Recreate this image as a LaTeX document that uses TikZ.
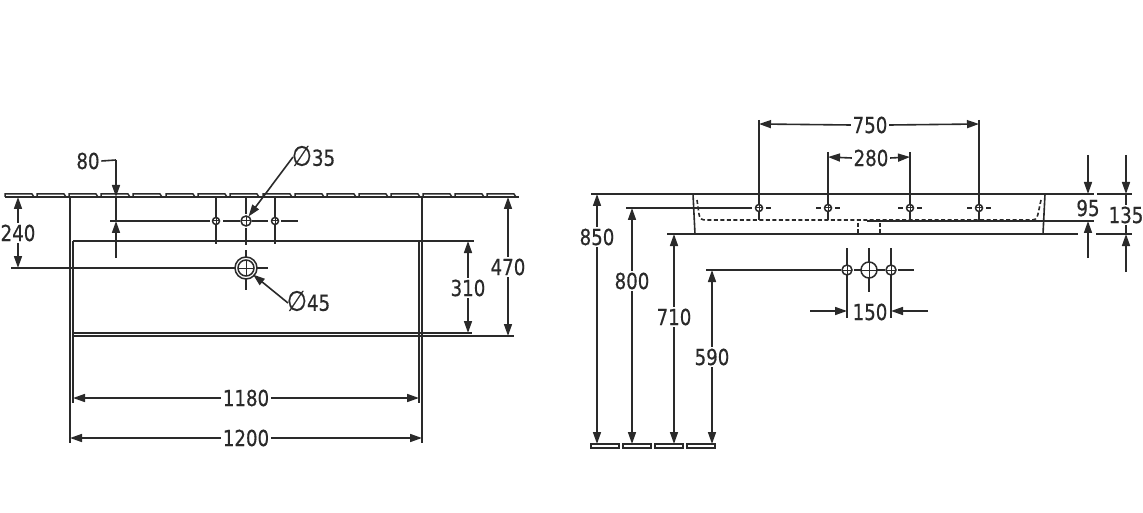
\documentclass[tikz,border=0pt]{standalone}
\usepackage{fontspec}
\setmainfont[RawFeature={embolden=0.5},FakeStretch=0.92]{DejaVu Sans Condensed}
\usetikzlibrary{arrows.meta}
\definecolor{ink}{HTML}{2A2A2A}
\tikzset{
  every path/.style={line width=1.6pt},
  thin line/.style={draw=ink,line width=1.6pt},
  base line/.style={draw=ink,line width=1.6pt},
  dimline/.style={draw=ink,line width=1.6pt,-{Triangle[length=12pt,width=8pt]}},
  dimtext/.style={font=\fontsize{22}{22}\selectfont,text=ink,inner sep=1pt},
  hidden/.style={draw=ink,line width=1.6pt,dash pattern=on 4pt off 2.5pt},
  hole/.style={draw=ink,line width=1.5pt,fill=white},
  plate/.style={draw=ink,line width=1.5pt,fill=white},
}
\newcommand{\crosshole}[3]{% x,y,r
  \draw[hole] (#1,#2) circle[radius=#3];
  \draw[draw=ink,line width=1pt] (#1-#3,#2) -- (#1+#3,#2) (#1,#2-#3) -- (#1,#2+#3);
}
\newcommand{\dia}{{\fontsize{28}{20}\selectfont∅}}
\begin{document}
\begin{tikzpicture}[x=1pt,y=-1pt]
\useasboundingbox (0,0) rectangle (1143,513);
% ---------- left view: wall strip
\foreach \a in {5,37,69,101,133,166,198,230,263,295,327,359,391,423,455,487}{
  \draw[plate] (\a,197) -- (\a,194) -- (\a+27,194) -- (\a+29,197);
}
\draw[base line] (5,197) -- (519,197);
% body
\draw[base line] (70,197) -- (70,443);
\draw[base line] (73,241) -- (73,403);
\draw[base line] (422,197) -- (422,443);
\draw[base line] (419,241) -- (419,403);
\draw[base line] (73,241) -- (474,241);
\draw[base line] (72,333) -- (472,333);
\draw[base line] (72,336) -- (514,336);
% hole centre lines
\draw[thin line] (110,221) -- (210,221) (223,221) -- (240,221) (252,221) -- (268,221) (281,221) -- (298,221);
\draw[thin line] (216,197) -- (216,244);
\draw[thin line] (275,197) -- (275,244);
\draw[thin line] (246,197) -- (246,214) (246,228) -- (246,245) (246,250) -- (246,290);
\draw[thin line] (11,268) -- (268,268);
\draw[hole] (246,268) circle[radius=11];
\draw[hole] (246,268) circle[radius=8];
\draw[draw=ink,line width=1pt] (238,268) -- (254,268) (246,260) -- (246,276);
\crosshole{246}{221}{5}
\crosshole{216}{221}{3.5}
\crosshole{275}{221}{3.5}
% 80
\node[dimtext] (t80) at (88,161) {80};
\coordinate (d80a) at (116,160);
\coordinate (d80b) at (116,197);
\coordinate (d80c) at (116,258);
\coordinate (d80d) at (116,221);
\draw[thin line] (t80.east) -- (d80a);
\draw[dimline] (d80a) -- (d80b);
\draw[thin line] (d80b) -- (d80d);
\draw[dimline] (d80c) -- (d80d);
% 240
\node[dimtext] (t240) at (18,233) {240};
\coordinate (d240a) at (18,197);
\coordinate (d240b) at (18,268);
\draw[dimline] (t240.north) -- (d240a);
\draw[dimline] (t240.south) -- (d240b);
% diameters
\node[dimtext,anchor=west] (t35) at (290,156) {\dia 35};
\node[dimtext,anchor=west] (t45) at (285,301) {\dia 45};
\coordinate (a35) at (248.5,216.5);
\coordinate (a45) at (253,274.5);
\coordinate (s35) at (293,157);
\coordinate (s45) at (288,303);
\draw[dimline] (s35) -- (a35);
\draw[dimline] (s45) -- (a45);
% 310, 470
\node[dimtext] (t310) at (468,288) {310};
\coordinate (d310a) at (468,241);
\coordinate (d310b) at (468,333);
\draw[dimline] (t310.north) -- (d310a);
\draw[dimline] (t310.south) -- (d310b);
\node[dimtext] (t470) at (508,267) {470};
\coordinate (d470a) at (508,197);
\coordinate (d470b) at (508,336);
\draw[dimline] (t470.north) -- (d470a);
\draw[dimline] (t470.south) -- (d470b);
% 1180, 1200
\node[dimtext] (t1180) at (246,398) {1180};
\coordinate (d1180a) at (73,398);
\coordinate (d1180b) at (419,398);
\draw[dimline] (t1180.west) -- (d1180a);
\draw[dimline] (t1180.east) -- (d1180b);
\node[dimtext] (t1200) at (246,438) {1200};
\coordinate (d1200a) at (70,438);
\coordinate (d1200b) at (422,438);
\draw[dimline] (t1200.west) -- (d1200a);
\draw[dimline] (t1200.east) -- (d1200b);
% ---------- right view
\draw[base line] (591,194) -- (1094,194) (1097,194) -- (1132,194);
\draw[base line] (667,234) -- (1078,234) (1096,234) -- (1132,234);
\draw[base line] (867,221) -- (1094,221);
\draw[base line] (626,208) -- (752,208);
\draw[base line] (693,194) -- (695,234);
\draw[base line] (1045,194) -- (1043,234);
\draw[hidden] (697,200) -- (699,214) .. controls (699.5,219) and (702,220) .. (706,220) -- (867,220);
\draw[hidden] (1041,200) -- (1038,214) .. controls (1037,219) and (1035,220) .. (1031,220) -- (867,220);
\draw[hidden] (858,223) -- (858,234);
\draw[hidden] (880,223) -- (880,234);
% vertical extension lines
\draw[thin line] (759,120) -- (759,220);
\draw[thin line] (828,152) -- (828,220);
\draw[thin line] (910,152) -- (910,220);
\draw[thin line] (979,120) -- (979,220);
% holes
\foreach \x in {759,828,910,979}{
  \crosshole{\x}{208}{3.5}
  \draw[thin line] (\x+7,208) -- (\x+12,208);
}
\foreach \x in {828,910,979}{
  \draw[thin line] (\x-12,208) -- (\x-7,208);
}
% lower holes
\draw[thin line] (706,270) -- (841,270) (854,270) -- (861,270) (877,270) -- (885,270) (898,270) -- (914,270);
\draw[thin line] (847,248) -- (847,318);
\draw[thin line] (891,248) -- (891,318);
\draw[thin line] (869,248) -- (869,292);
\crosshole{847}{270}{5}
\crosshole{869}{270}{8}
\crosshole{891}{270}{5}
% floor
\foreach \a in {591,623,655,687}{
  \draw[plate] (\a,444) rectangle (\a+28,448);
}
% 750, 280
\node[dimtext] (t750) at (870,125) {750};
\coordinate (d750a) at (759,124);
\coordinate (d750b) at (979,124);
\draw[dimline] (t750.west) -- (d750a);
\draw[dimline] (t750.east) -- (d750b);
\node[dimtext] (t280) at (871,158) {280};
\coordinate (d280a) at (828,157);
\coordinate (d280b) at (910,157);
\draw[dimline] (t280.west) -- (d280a);
\draw[dimline] (t280.east) -- (d280b);
% 150
\node[dimtext] (t150) at (870,312) {150};
\coordinate (d150l) at (810,311);
\coordinate (d150a) at (847,311);
\coordinate (d150r) at (928,311);
\coordinate (d150b) at (891,311);
\draw[dimline] (d150l) -- (d150a);
\draw[dimline] (d150r) -- (d150b);
% heights
\node[dimtext] (t850) at (597,237) {850};
\coordinate (d850a) at (597,194);
\coordinate (d850b) at (597,444);
\draw[dimline] (t850.north) -- (d850a);
\draw[dimline] (t850.south) -- (d850b);
\node[dimtext] (t800) at (632,281) {800};
\coordinate (d800a) at (632,208);
\coordinate (d800b) at (632,444);
\draw[dimline] (t800.north) -- (d800a);
\draw[dimline] (t800.south) -- (d800b);
\node[dimtext] (t710) at (674,317) {710};
\coordinate (d710a) at (674,234);
\coordinate (d710b) at (674,444);
\draw[dimline] (t710.north) -- (d710a);
\draw[dimline] (t710.south) -- (d710b);
\node[dimtext] (t590) at (712,357) {590};
\coordinate (d590a) at (712,270);
\coordinate (d590b) at (712,444);
\draw[dimline] (t590.north) -- (d590a);
\draw[dimline] (t590.south) -- (d590b);
% 95, 135
\node[dimtext] (t95) at (1088,208) {95};
\coordinate (d95s) at (1088,155);
\coordinate (d95a) at (1088,194);
\coordinate (d95e) at (1088,258);
\coordinate (d95b) at (1088,221);
\draw[dimline] (d95s) -- (d95a);
\draw[dimline] (d95e) -- (d95b);
\node[dimtext] (t135) at (1126,215) {135};
\coordinate (d135s) at (1126,155);
\coordinate (d135a) at (1126,194);
\coordinate (d135e) at (1126,272);
\coordinate (d135b) at (1126,234);
\draw[dimline] (d135s) -- (d135a);
\draw[dimline] (d135e) -- (d135b);
\draw[thin line] (t135.north) -- (d135a);
\draw[thin line] (t135.south) -- (d135b);
\end{tikzpicture}
\end{document}
